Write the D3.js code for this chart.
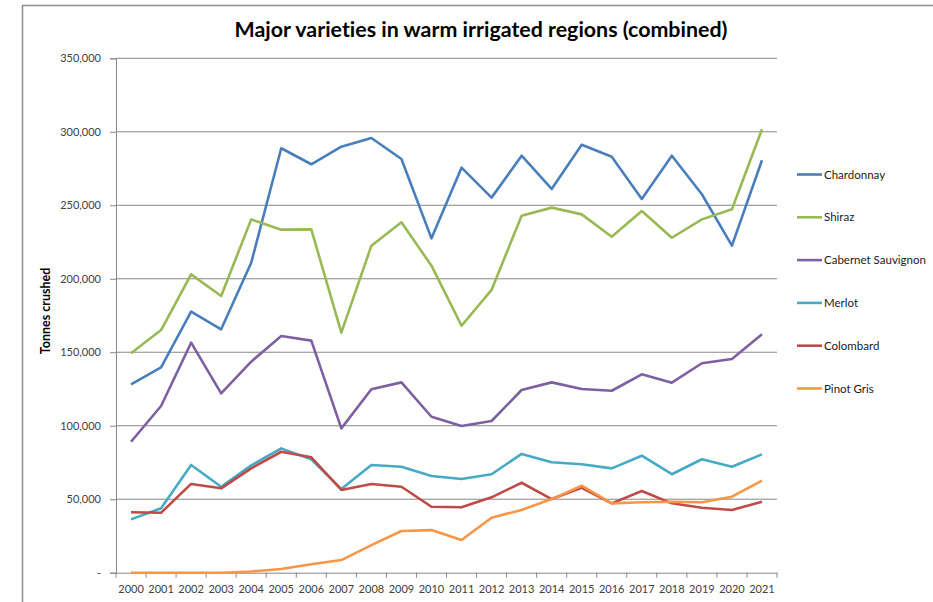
<!DOCTYPE html>
<html>
<head>
<meta charset="utf-8">
<script src="https://cdn.jsdelivr.net/npm/d3@7"></script>
<style>
  html, body { margin: 0; padding: 0; background: #fff; }
  svg { display: block; }
  text { font-variant-ligatures: none; }
</style>
</head>
<body>
<svg id="chart" width="933" height="602"></svg>
<script>
const years = ["2000","2001","2002","2003","2004","2005","2006","2007","2008","2009","2010","2011","2012","2013","2014","2015","2016","2017","2018","2019","2020","2021"];
const seriesNames = ["Chardonnay","Shiraz","Cabernet Sauvignon","Merlot","Colombard","Pinot Gris"];
const seriesColors = ["#4A7EBB","#98B954","#7D60A0","#46AAC5","#BE4B48","#F79646"];
const chardonnay = [128200,139700,177600,165600,210900,288800,277900,289900,295800,281500,227500,275600,255200,283700,261100,291200,283000,254300,283700,257500,222500,280600];
const shiraz = [149300,165100,203000,188300,240400,233400,233600,163300,222500,238400,208900,168000,192400,242900,248400,243800,228600,246100,227900,240400,247300,301700];
const cabernet = [89100,113400,156500,122000,143600,161000,157900,98200,124800,129500,106100,99800,103200,124300,129500,125000,123800,135000,129300,142500,145400,162200];
const merlot = [36300,43800,73300,58500,73000,84600,77100,56900,73300,72100,65800,63800,67000,80800,75100,73800,71000,79600,67000,77200,72100,80500];
const colombard = [41100,40800,60400,57400,71000,82300,78500,56300,60400,58500,44900,44500,51300,61200,50100,57800,47200,55600,47200,44200,42700,48300];
const pinotGris = [0,0,0,0,800,2500,5700,8600,18800,28400,29000,22200,37400,42700,50100,59200,47200,47900,48300,47900,51700,62600];
const seriesValues = [chardonnay, shiraz, cabernet, merlot, colombard, pinotGris];
const yTicks = [0,50000,100000,150000,200000,250000,300000,350000];
const title = "Major varieties in warm irrigated regions (combined)";
const yTitle = "Tonnes crushed";

const svg = d3.select("#chart");
const font = "Lato, 'Open Sans', 'Liberation Sans', sans-serif";
const gridColor = "#878787";
const textColor = "#404040";

// outer frame
svg.append("path").attr("d", "M22.5,602 L22.5,5.5 L933,5.5")
  .attr("fill","none").attr("stroke","#8c8c8c").attr("stroke-width",1.5);

const plotLeft = 116, plotRight = 777, plotTop = 58.3, plotBottom = 572.7;

const x = d3.scaleBand().domain(years).range([plotLeft, plotRight]).padding(0);
const y = d3.scaleLinear().domain([0, 350000]).range([plotBottom, plotTop]);

// gridlines
svg.append("g").selectAll("line").data(yTicks.filter(d => d > 0)).join("line")
  .attr("x1", plotLeft).attr("x2", plotRight)
  .attr("y1", d => y(d)).attr("y2", d => y(d))
  .attr("stroke", gridColor).attr("stroke-width", 1);

// y axis
const yAxis = svg.append("g").attr("transform", `translate(${plotLeft},0)`)
  .call(d3.axisLeft(y).tickValues(yTicks).tickSize(6).tickPadding(9)
    .tickFormat(d => d === 0 ? "-" : d3.format(",")(d)));
yAxis.select(".domain").attr("stroke", gridColor);
yAxis.selectAll(".tick line").attr("stroke", gridColor);
yAxis.selectAll("text").attr("fill", textColor).style("font-family", font).style("font-size", "11px");

// x axis
const xAxis = svg.append("g").attr("transform", `translate(0,${plotBottom})`)
  .call(d3.axisBottom(x).tickSize(0).tickPadding(13));
xAxis.select(".domain").attr("stroke", gridColor);
xAxis.selectAll("text").attr("fill", textColor).style("font-family", font).style("font-size", "11px");
// boundary ticks
const bounds = years.map(d => x(d)).concat([plotRight]);
svg.append("g").selectAll("line").data(bounds).join("line")
  .attr("x1", d => d).attr("x2", d => d)
  .attr("y1", plotBottom).attr("y2", plotBottom + 5)
  .attr("stroke", gridColor);

// lines
const line = d3.line()
  .x((d, i) => x(years[i]) + x.bandwidth() / 2)
  .y(d => y(d));
svg.append("g").selectAll("path").data(seriesValues).join("path")
  .attr("d", d => line(d))
  .attr("fill", "none")
  .attr("stroke", (d, i) => seriesColors[i])
  .attr("stroke-width", 2.6)
  .attr("stroke-linejoin", "round");

// legend
const lg = svg.append("g");
seriesNames.forEach((name, i) => {
  const ly = 174.5 + i * 42.8;
  lg.append("line").attr("x1", 797).attr("x2", 822).attr("y1", ly).attr("y2", ly)
    .attr("stroke", seriesColors[i]).attr("stroke-width", 2.6);
  lg.append("text").attr("x", 824).attr("y", ly + 4)
    .attr("fill", "#1a1a1a").style("font-family", font).style("font-size", "11.5px")
    .text(name);
});

// title
svg.append("text").attr("x", 481).attr("y", 37).attr("text-anchor", "middle")
  .style("font-family", font).style("font-size", "21.4px").style("font-weight", "bold")
  .attr("fill", "#000").text(title);

// y title
svg.append("text").attr("transform", "translate(50,311) rotate(-90)")
  .attr("text-anchor", "middle")
  .style("font-family", font).style("font-size", "12.5px").style("font-weight", "bold")
  .attr("fill", "#000").text(yTitle);
</script>
</body>
</html>
